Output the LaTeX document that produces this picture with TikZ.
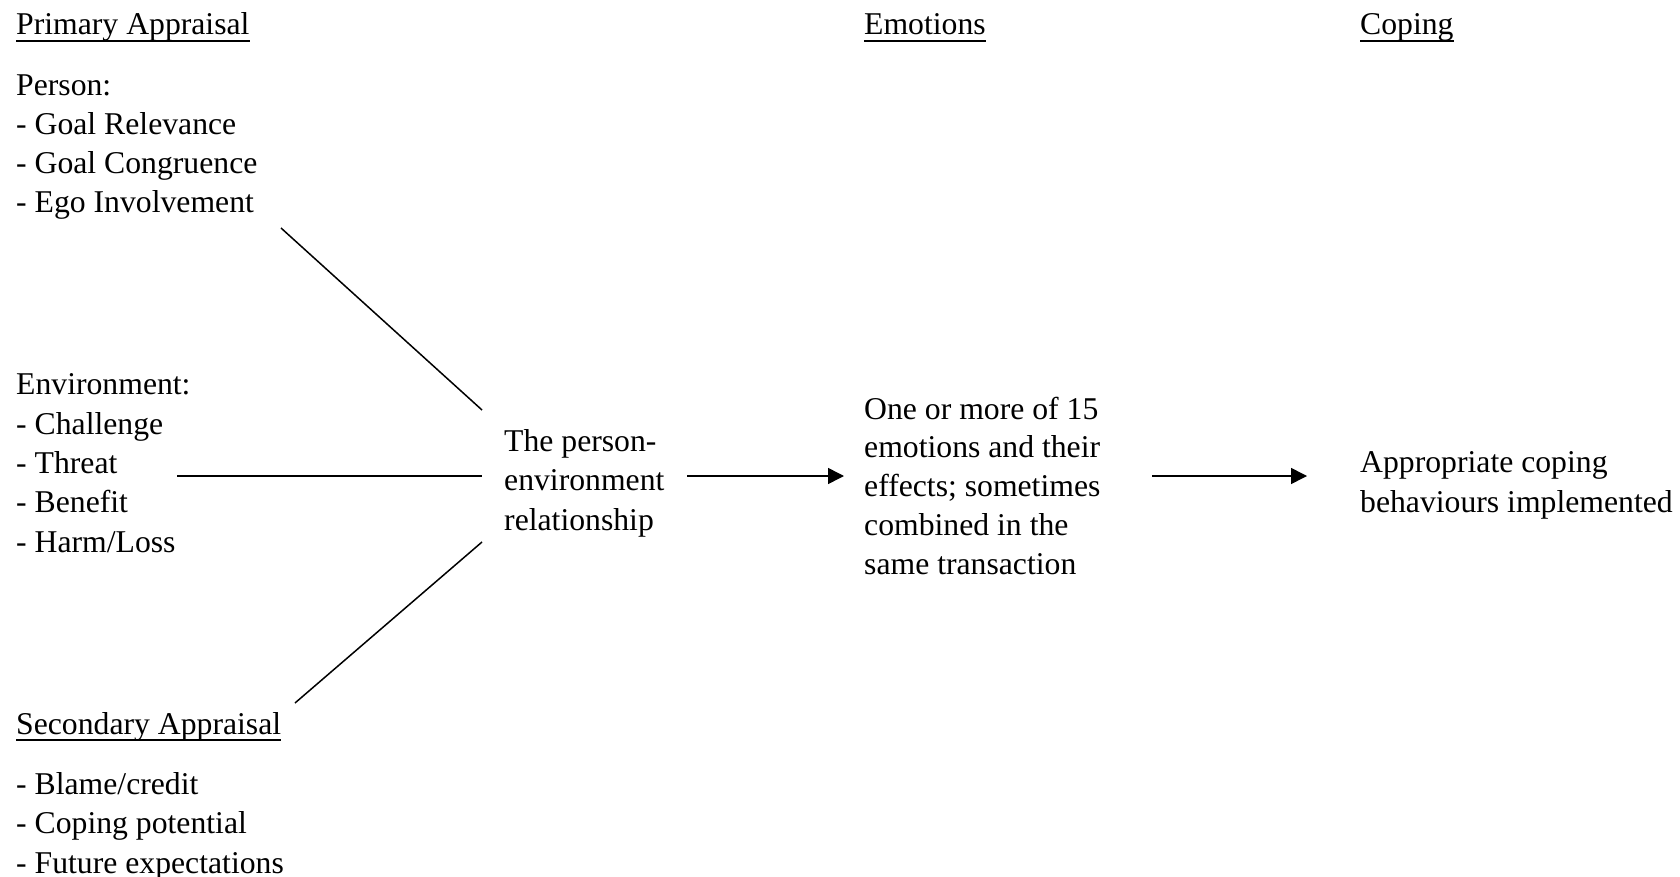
\documentclass[tikz,border=0pt]{standalone}
\usepackage{fontspec}
\setmainfont{Liberation Serif}
\usetikzlibrary{arrows.meta,calc}
\tikzset{
  txt/.style={inner sep=0pt, anchor=base west, align=left,
              font=\fontsize{31.7}{39.3}\selectfont},
  link/.style={line width=1.5pt},
  flow/.style={line width=1.5pt, -{Triangle[length=16pt,width=16pt]}},
  uline/.style={line width=1.6pt},
}
\begin{document}
\begin{tikzpicture}[x=1pt,y=-1pt]
\useasboundingbox (0,0) rectangle (1680,877);

% column headings
\node[txt] (pa)  at (16,35)   {Primary Appraisal};
\node[txt] (emh) at (864,35)  {Emotions};
\node[txt] (coh) at (1360,35) {Coping};
\node[txt] (sa)  at (16,734)  {Secondary Appraisal};
\foreach \h in {pa,emh,coh,sa}
  \draw[uline] ($(\h.base west)+(0,6)$) -- ($(\h.base east)+(0,6)$);

% appraisal lists (placed by the baseline of their last line)
\node[txt] (person) at (16,213) {Person:\\- Goal Relevance\\- Goal Congruence\\- Ego Involvement};
\node[txt] (env)    at (16,552) {Environment:\\- Challenge\\- Threat\\- Benefit\\- Harm/Loss};
\node[txt] (sec)    at (16,873) {- Blame/credit\\- Coping potential\\- Future expectations};

% process chain
\node[txt] (rel) at (504,530)  {The person-\\environment\\relationship};
\node[txt, font=\fontsize{31.7}{38.7}\selectfont] (emo) at (864,574)
  {One or more of 15\\emotions and their\\effects; sometimes\\combined in the\\same transaction};
\node[txt] (cop) at (1360,512) {Appropriate coping\\behaviours implemented};

% connector ends
\coordinate (personEnd) at (281,228);
\coordinate (relTop)    at (482,410);
\coordinate (envEnd)    at (177,476);
\coordinate (relMid)    at (482,476);
\coordinate (relBot)    at (482,542);
\coordinate (secEnd)    at (295,703);
\coordinate (relOut)    at (687,476);
\coordinate (emoIn)     at (844,476);
\coordinate (emoOut)    at (1152,476);
\coordinate (copIn)     at (1307,476);

\draw[link] (personEnd) -- (relTop);
\draw[link] (envEnd) -- (relMid);
\draw[link] (secEnd) -- (relBot);
\draw[flow] (relOut) -- (emoIn);
\draw[flow] (emoOut) -- (copIn);
\end{tikzpicture}
\end{document}
